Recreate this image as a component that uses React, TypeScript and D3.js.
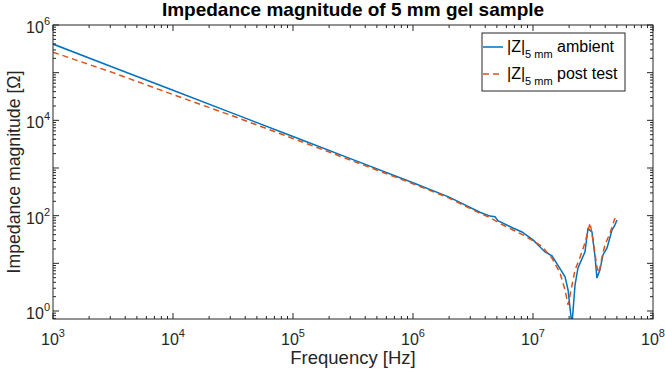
import * as d3 from "d3"

// |Z| ambient
const ambientFreq = [1e3, 3.16e3, 1e4, 3.16e4, 1e5, 3.16e5, 1e6, 2.0e6, 3.61e6, 4.39e6, 4.82e6, 5.1e6, 6.81e6, 8.09e6, 1e7, 1.26e7, 1.44e7, 1.61e7, 1.85e7, 1.96e7, 2.11e7, 2.24e7, 2.37e7, 2.71e7, 2.87e7, 3.1e7, 3.29e7, 3.41e7, 3.61e7, 3.83e7, 4.14e7, 4.55e7, 4.82e7, 5.01e7]
const ambientZ = [398000, 130300, 42700, 13960, 4570, 1496, 490, 245, 118, 98, 95, 78.5, 55, 45.5, 31, 17.3, 14.3, 9.2, 5.2, 2.76, 0.5, 3.5, 8.0, 17.3, 53, 45.5, 13.6, 4.9, 7.2, 15, 21, 50, 64, 81]

// |Z| post test
const postFreq = [1e3, 3.16e3, 1e4, 3.16e4, 1e5, 3.16e5, 1e6, 2.0e6, 3.61e6, 4.39e6, 5.62e6, 6.81e6, 8.26e6, 1e7, 1.19e7, 1.44e7, 1.68e7, 1.85e7, 1.96e7, 2.24e7, 2.47e7, 2.71e7, 2.99e7, 3.16e7, 3.41e7, 3.55e7, 3.76e7, 3.98e7, 4.39e7, 4.82e7]
const postZ = [269000, 100000, 34700, 12300, 4170, 1396, 468, 234, 112, 90.8, 63.7, 50.1, 39.4, 29.9, 22.4, 12.9, 6.28, 2.76, 1.34, 7.24, 13.6, 26.7, 70.3, 30.9, 8.4, 6.28, 13.6, 24.3, 43.4, 89]

const xTickExps = [3, 4, 5, 6, 7, 8]
const yTickExps = [0, 2, 4, 6]
const legendLabels = ["ambient", "post test"]

const W = 665
const H = 379
const left = 53
const right = 653
const top = 25
const bottom = 319
const axisColor = "#262626"
const font = "'Liberation Sans', Arial, sans-serif"

export default function App() {
  const x = d3.scaleLog().domain([1e3, 1e8]).range([left, right])
  const y = d3.scaleLog().domain([Math.pow(10, -0.168), 1e6]).range([bottom, top])

  const line = (fs: number[], zs: number[]) =>
    d3.line<number>().x((_, i) => x(fs[i])).y((z) => y(z))(zs) || ""

  // ticks: majors at decades, minors at 2..9
  const xMajor: number[] = []
  const xMinor: number[] = []
  for (let e = 3; e <= 8; e++) {
    xMajor.push(Math.pow(10, e))
    if (e < 8) for (let m = 2; m <= 9; m++) xMinor.push(m * Math.pow(10, e))
  }
  const yMajor: number[] = []
  const yMinor: number[] = [0.7, 0.8, 0.9]
  for (let e = 0; e <= 6; e++) {
    yMajor.push(Math.pow(10, e))
    if (e < 6) for (let m = 2; m <= 9; m++) yMinor.push(m * Math.pow(10, e))
  }
  const yLo = y.domain()[0]

  return (
    <svg width={W} height={H} style={{ position: "absolute", left: 0, top: 0, background: "#fff" }} fontFamily={font}>
      <defs>
        <clipPath id="plot">
          <rect x={left} y={top} width={right - left} height={bottom - top} />
        </clipPath>
      </defs>
      <rect x={0} y={0} width={W} height={H} fill="#fff" />

      <text x={(left + right) / 2} y={16} textAnchor="middle" fontSize={19} fontWeight="bold" fill="#000">
        Impedance magnitude of 5 mm gel sample
      </text>

      <g clipPath="url(#plot)">
        <path d={line(ambientFreq, ambientZ)} fill="none" stroke="#0072BD" strokeWidth={1.5} />
        <path d={line(postFreq, postZ)} fill="none" stroke="#D95319" strokeWidth={1.5} strokeDasharray="6,4" />
      </g>

      {/* ticks */}
      <g stroke={axisColor} strokeWidth={1}>
        {xMajor.map((v) => (
          <g key={"xM" + v}>
            <line x1={x(v)} x2={x(v)} y1={bottom} y2={bottom - 6} />
            <line x1={x(v)} x2={x(v)} y1={top} y2={top + 6} />
          </g>
        ))}
        {xMinor.map((v) => (
          <g key={"xm" + v}>
            <line x1={x(v)} x2={x(v)} y1={bottom} y2={bottom - 3} />
            <line x1={x(v)} x2={x(v)} y1={top} y2={top + 3} />
          </g>
        ))}
        {yMajor.map((v) => (
          <g key={"yM" + v}>
            <line x1={left} x2={left + 6} y1={y(v)} y2={y(v)} />
            <line x1={right} x2={right - 6} y1={y(v)} y2={y(v)} />
          </g>
        ))}
        {yMinor.filter((v) => v >= yLo).map((v) => (
          <g key={"ym" + v}>
            <line x1={left} x2={left + 3} y1={y(v)} y2={y(v)} />
            <line x1={right} x2={right - 3} y1={y(v)} y2={y(v)} />
          </g>
        ))}
      </g>
      <rect x={left} y={top} width={right - left} height={bottom - top} fill="none" stroke={axisColor} strokeWidth={1} />

      {/* x tick labels */}
      {xTickExps.map((e) => (
        <text key={"xl" + e} x={x(Math.pow(10, e))} y={345} textAnchor="middle" fontSize={16} fill={axisColor}>
          10<tspan fontSize={11} dy={-8}>{e}</tspan>
        </text>
      ))}
      {/* y tick labels */}
      {yTickExps.map((e) => (
        <text key={"yl" + e} x={left - 3} y={y(Math.pow(10, e)) + 8} textAnchor="end" fontSize={16} fill={axisColor}>
          10<tspan fontSize={11} dy={-8}>{e}</tspan>
        </text>
      ))}

      <text x={(left + right) / 2} y={364} textAnchor="middle" fontSize={18.5} fill={axisColor}>
        Frequency [Hz]
      </text>
      <text transform={`translate(20,${(top + bottom) / 2}) rotate(-90)`} textAnchor="middle" fontSize={17.7} fill={axisColor}>
        Impedance magnitude [Ω]
      </text>

      {/* legend */}
      <rect x={482} y={33} width={143} height={58} fill="#fff" stroke={axisColor} strokeWidth={1} />
      {legendLabels.map((lab, i) => {
        const ly = 47 + i * 27
        return (
          <g key={lab}>
            <line x1={483} x2={503} y1={ly} y2={ly}
              stroke={i === 0 ? "#0072BD" : "#D95319"} strokeWidth={1.5}
              strokeDasharray={i === 0 ? undefined : "6,4"} />
            <text x={507} y={ly + 5} fontSize={16} fill="#000">
              |Z|<tspan fontSize={11} dy={6}>5 mm</tspan><tspan dy={-6}> {lab}</tspan>
            </text>
          </g>
        )
      })}
    </svg>
  )
}
